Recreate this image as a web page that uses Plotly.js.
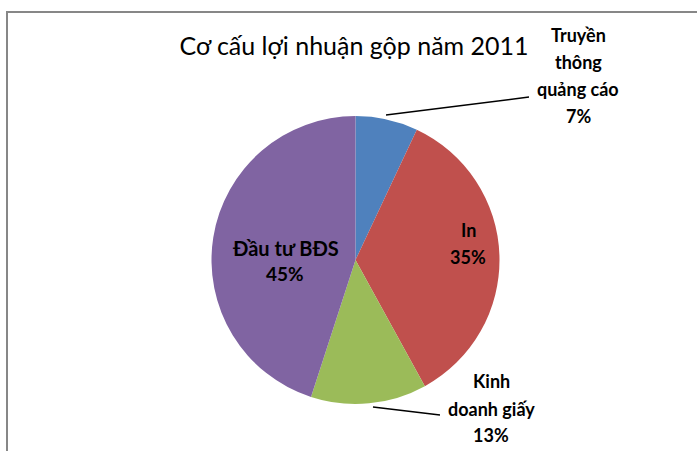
<!DOCTYPE html>
<html>
<head>
<meta charset="utf-8">
<script src="https://cdn.plot.ly/plotly-3.0.1.min.js"></script>
<style>html,body{margin:0;padding:0;background:#fff;}#chart{width:697px;height:451px;}</style>
</head>
<body>
<div id="chart"></div>
<script>
// Data
const categories = ['Truyền thông quảng cáo', 'In', 'Kinh doanh giấy', 'Đầu tư BĐS'];
const values = [7, 35, 13, 45];
const colors = ['#4F81BD', '#C0504D', '#9BBB59', '#8064A2'];
const titleText = 'Cơ cấu lợi nhuận gộp năm 2011';

// Label line-wrapping (display only)
const labelLines = [
  ['Truyền', 'thông', 'quảng cáo'],
  ['In'],
  ['Kinh', 'doanh giấy'],
  ['Đầu tư BĐS']
];

const W = 697, H = 451;
const px = x => x / W;
const py = y => 1 - y / H;

const total = values.reduce((a, b) => a + b, 0);
const pct = values.map(v => Math.round(v / total * 100) + '%');

// Label layout (pixel centers of each line) and leader lines
const labelPos = [
  {x: 578, ys: [35, 62, 89, 116], sizes: [18, 18, 18, 18]},
  {x: 468, ys: [230, 257], sizes: [18, 18]},
  {x: 491, ys: [381, 409, 435], sizes: [18, 18, 18]},
  {x: 285, ys: [248, 273], sizes: [20, 19]}
];
const leaders = [
  [[386, 115], [529, 97]],
  null,
  [[373, 407], [440, 415]],
  null
];

const font = 'Lato, "Open Sans", sans-serif';
const annotations = [];
categories.forEach((c, i) => {
  const lines = labelLines[i].concat([pct[i]]);
  lines.forEach((t, k) => {
    annotations.push({
      xref: 'paper', yref: 'paper',
      x: px(labelPos[i].x), y: py(labelPos[i].ys[k]),
      xanchor: 'center', yanchor: 'middle',
      text: '<b>' + t + '</b>', showarrow: false,
      font: {family: font, size: labelPos[i].sizes[k], color: '#000'}
    });
  });
});

const shapes = [{
  type: 'rect', xref: 'paper', yref: 'paper',
  x0: px(7), x1: 1.2, y0: -0.2, y1: py(12),
  line: {color: '#878787', width: 2}, fillcolor: 'rgba(0,0,0,0)'
}];
leaders.forEach(l => {
  if (!l) return;
  shapes.push({
    type: 'line', xref: 'paper', yref: 'paper',
    x0: px(l[0][0]), y0: py(l[0][1]), x1: px(l[1][0]), y1: py(l[1][1]),
    line: {color: '#000', width: 1.5}
  });
});

const cx = 355.5, cy = 260, r = 144;
const trace = {
  type: 'pie',
  labels: categories,
  values: values,
  sort: false,
  direction: 'clockwise',
  rotation: 0,
  textinfo: 'none',
  hoverinfo: 'label+percent',
  marker: {colors: colors, line: {width: 0}},
  domain: {x: [px(cx - r), px(cx + r)], y: [py(cy + r), py(cy - r)]},
  showlegend: false
};

const layout = {
  width: W, height: H,
  margin: {l: 0, r: 0, t: 0, b: 0},
  paper_bgcolor: '#fff',
  showlegend: false,
  title: {
    text: titleText,
    x: px(354), y: py(46), xref: 'paper', yref: 'paper',
    xanchor: 'center', yanchor: 'middle',
    font: {family: font, size: 25, color: '#000'}
  },
  annotations: annotations,
  shapes: shapes
};

Plotly.newPlot('chart', [trace], layout, {displayModeBar: false, staticPlot: true});
</script>
</body>
</html>
